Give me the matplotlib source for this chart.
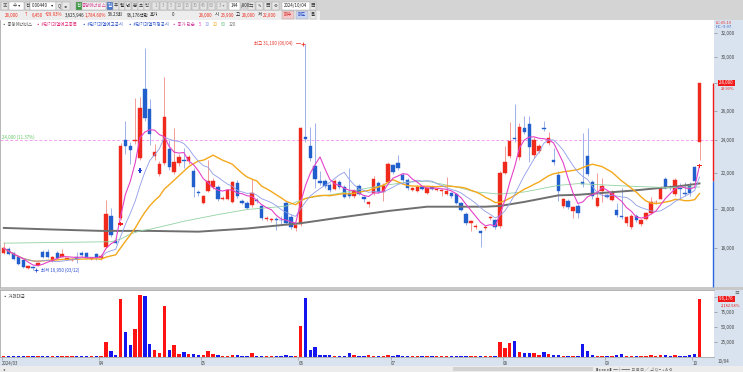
import numpy as np
import pandas as pd
import matplotlib
matplotlib.use("Agg")
import matplotlib.pyplot as plt
import matplotlib.transforms as mtransforms
from matplotlib.patches import Rectangle
from matplotlib.ticker import FixedLocator, NullLocator, FuncFormatter

plt.rcParams["font.family"] = ["Noto Sans CJK KR", "DejaVu Sans"]

# 000440 중앙에너비스, daily candles 2024/03/04 .. 2024/10/04
opens = [17770, 17940, 17770, 17580, 17420, 17070, 17110, 17200, 17820, 17820,
         17400, 17770, 17580, 17470, 17420, 17580, 17740, 17770, 17480, 17700,
         17500, 18060, 19630, 18320, 19480, 24030, 23650, 23970, 22880, 27550,
         26100, 23030, 21930, 22570, 23460, 22040, 22580, 22750, 22700, 22110,
         20880, 20310, 20950, 21170, 21170, 20500, 20520, 20340, 21440, 20410,
         20310, 20190, 20460, 20140, 19450, 19390, 19460, 19420, 20320, 19540,
         18990, 19180, 24220, 23650, 22420, 21540, 21540, 21300, 21070, 21480,
         21200, 20830, 20670, 21240, 20630, 20260, 20840, 21440, 20920, 21490,
         22470, 22580, 21880, 21610, 21030, 20960, 21200, 20870, 21180, 21020,
         20990, 20810, 20830, 20790, 20290, 19710, 19260, 19030, 18830, 18990,
         19490, 19410, 19080, 22020, 23020, 24170, 22950, 24830, 25050, 23060,
         23340, 24830, 23860, 22780, 21880, 20140, 20410, 19870, 20160, 21470,
         23010, 21470, 20160, 20990, 20730, 20470, 19910, 19600, 19250, 19050,
         19620, 19190, 19450, 19750, 20330, 20540, 21670, 21190, 20800, 21150,
         20830, 21240, 22340, 23900]
highs = [18300, 18050, 17800, 17650, 17450, 17200, 17150, 17350, 17900, 17950,
         17600, 17850, 17950, 17550, 17520, 17800, 17850, 17820, 17580, 17750,
         17700, 20450, 20020, 18500, 23840, 25280, 23900, 26870, 26960, 30740,
         26800, 23800, 22700, 28450, 24000, 24820, 23150, 23520, 23100, 22300,
         21000, 20750, 22800, 21700, 21300, 20700, 21100, 21550, 21600, 20500,
         20400, 21650, 20550, 20250, 19600, 19500, 19550, 19600, 20400, 19700,
         19200, 24900, 31100, 24880, 25150, 22110, 21650, 21400, 21650, 21600,
         21300, 22300, 21050, 21350, 20700, 20400, 21820, 21550, 21400, 22650,
         22550, 23100, 22000, 21700, 21200, 21300, 21250, 21200, 21300, 21150,
         21100, 21750, 20900, 20850, 20350, 19800, 19400, 19200, 18900, 19100,
         19600, 19450, 22100, 23660, 25220, 26460, 25180, 25650, 25650, 24200,
         23800, 25290, 24570, 23500, 22100, 20600, 20500, 20150, 20250, 24500,
         24840, 21600, 21990, 21680, 20800, 21000, 20300, 21110, 19600, 19700,
         19700, 19450, 19800, 20620, 20450, 21250, 21750, 21300, 21700, 21400,
         21450, 21450, 22400, 28000]
lows = [17700, 17660, 17420, 17200, 17050, 17000, 16950, 17150, 17500, 17500,
        17350, 17480, 17550, 17420, 17380, 17300, 17600, 17500, 17430, 17450,
        17450, 18000, 18550, 18200, 19400, 23150, 22540, 23800, 22800, 25300,
        23710, 22800, 21800, 22450, 22200, 21950, 22400, 22300, 22550, 20630,
        20700, 20250, 20900, 21100, 20400, 20450, 20450, 20300, 20600, 20250,
        19950, 20100, 20300, 19400, 19350, 19300, 18880, 19200, 19150, 18950,
        18820, 19100, 23900, 22700, 21130, 21300, 21150, 20900, 21000, 21100,
        20550, 20600, 20550, 20750, 20350, 20100, 20750, 20850, 20400, 21400,
        21950, 22200, 21500, 21000, 20950, 20900, 21000, 20800, 21000, 20950,
        20670, 20750, 20600, 20250, 19850, 19150, 18820, 18950, 18050, 18900,
        19400, 18950, 19000, 21950, 22900, 23900, 22800, 24400, 22630, 22900,
        23200, 24600, 23700, 22500, 20400, 20050, 20000, 19500, 19490, 21200,
        21800, 20500, 20100, 20350, 20550, 20400, 19550, 19450, 19100, 18950,
        19300, 19100, 19400, 19700, 20250, 20500, 21050, 21000, 20700, 20500,
        20700, 20700, 21450, 22800]
closes = [17980, 17710, 17460, 17230, 17090, 17160, 17040, 17300, 17550, 17580,
          17550, 17530, 17720, 17520, 17480, 17470, 17660, 17530, 17530, 17500,
          17610, 19700, 18630, 18240, 23650, 23650, 23400, 24030, 26190, 25470,
          24400, 23270, 22530, 25540, 22340, 22640, 22970, 22700, 22950, 21190,
          20830, 20670, 21530, 21530, 20500, 20580, 21020, 21460, 20690, 20300,
          20020, 20840, 20400, 19490, 19510, 19440, 19400, 19380, 19240, 19030,
          19130, 24800, 24090, 22880, 21630, 21420, 21240, 21000, 21540, 21180,
          20630, 20670, 20950, 20810, 20500, 20360, 21650, 20920, 21300, 22540,
          22060, 22280, 21610, 21110, 21130, 21200, 21100, 21120, 21100, 21080,
          21040, 20940, 20680, 20320, 19940, 19260, 19340, 19110, 18750, 19030,
          19540, 19050, 22020, 22680, 23960, 24120, 24860, 24550, 23610, 24030,
          23650, 24720, 24170, 22650, 20950, 20520, 20070, 20070, 19750, 21380,
          21940, 20670, 20580, 21240, 20620, 20920, 19650, 19540, 19540, 19620,
          19400, 19400, 19750, 20330, 20380, 21140, 21150, 21110, 21610, 21050,
          20790, 20830, 21550, 28000]
# 거래대금 (백만원)
trade_value = [1500, 1800, 1600, 1400, 1300, 1200, 1600, 1300, 1900, 1400,
               1200, 1500, 1300, 1000, 1000, 1200, 1300, 1400, 1100, 1200,
               1300, 25000, 9400, 2800, 96000, 41700, 20500, 46100, 102800, 101700,
               22200, 11100, 6700, 83900, 12200, 19400, 5600, 8900, 4400, 4400,
               3300, 2800, 10600, 4400, 2800, 2200, 2200, 3900, 2800, 1700,
               1700, 6100, 1700, 1700, 1100, 1100, 1700, 2200, 3300, 2200,
               1700, 51100, 98300, 12200, 16100, 3900, 2800, 2800, 2200, 2200,
               1700, 6100, 2800, 1700, 2200, 3300, 2200, 1700, 2200, 2800,
               1700, 3900, 2200, 1700, 1500, 1400, 1600, 1300, 1200, 1500,
               1300, 1600, 1400, 1500, 1700, 1900, 1500, 1300, 1800, 1200,
               1400, 1300, 24400, 14400, 22800, 27200, 8300, 6100, 6700, 6100,
               3900, 8300, 4400, 2800, 2800, 1700, 1700, 1700, 2200, 22200,
               10000, 3900, 2200, 2200, 1700, 1700, 3300, 4400, 1700, 2200,
               1100, 1700, 2200, 2800, 2200, 2800, 2800, 2200, 2800, 1700,
               1700, 3300, 5600, 96176]

month_starts = [0, 20, 41, 61, 80, 103, 124, 142]
month_labels = ["2024/03", "04", "05", "06", "07", "08", "09", "10"]

ma60_days = [0, 15, 22, 24, 26, 28, 30, 34, 37, 44, 50, 58, 62, 69, 76, 83,
             87, 93, 97, 102, 107, 114, 118, 129, 136, 143]
ma60_vals = [18230, 18280, 18300, 18430, 18680, 18840, 18920, 19150, 19330,
             19680, 19950, 20130, 20560, 20830, 21190, 21470, 21520, 21190,
             20910, 20790, 20910, 21280, 21380, 21230, 21160, 21190]
ma120_days = [0, 10, 20, 30, 40, 50, 61, 69, 79, 87, 99, 102, 107, 114, 118,
              129, 139, 143]
ma120_vals = [18990, 18910, 18840, 18840, 18800, 18960, 19230, 19520, 19870,
              20100, 20100, 20140, 20360, 20720, 20750, 20980, 21240, 21390]

signal_days = [24, 28, 143]
signal_prices = [19190, 22150, 22430]
signal_colors = ["#f02020", "#1f3fd0", "#f02020"]

price_ticks = [18000, 20000, 22000, 24000, 26000, 28000, 30000, 32000]
value_ticks = [25000, 50000, 75000, 100000]

W, H = 743, 372
RED = "#ef2a1c"
BLUE = "#2160cc"
VRED = "#ff1212"
VBLUE = "#1414ee"

fig = plt.figure(figsize=(W / 100, H / 100), dpi=100)
fig.patch.set_facecolor("white")


def px_box(x0, y0, x1, y1, color, z=-1.0, ec="none", lw=0.0):
    fig.add_artist(Rectangle((x0 / W, 1 - y1 / H), (x1 - x0) / W, (y1 - y0) / H,
                             transform=fig.transFigure, facecolor=color,
                             edgecolor=ec, linewidth=lw, zorder=z))


def px_text(x, y, s, color="#333333", size=3.2, ha="left", **kw):
    fig.text(x / W, 1 - y / H, s, color=color, fontsize=size, ha=ha,
             va="center", **kw)


def axis_fmt(box_value):
    # the tick hidden under the current-value box is left blank
    def f(val, _):
        if abs(val / box_value - 1) < 0.05:
            return ""
        return f"{val:,.0f}"
    return FuncFormatter(f)


# frame pieces
px_box(0, 0, W, 20, "#d4d4d4")
px_box(0, 10.5, 320, 19.5, "#ededed", z=-0.8)
px_box(714, 20, W, 357, "#d8e3ef")
px_box(0, 287, W, 290, "#c8c8c8")
px_box(0, 357, W, 365.5, "#d8e3ef")
px_box(0, 365.5, W, H, "#ececec")
px_box(453, 366.5, 593, 371, "#d2d2d2", z=-0.5)

ax = fig.add_axes([0, 1 - 287 / H, 714 / W, (287 - 20) / H])
axv = fig.add_axes([0, 1 - 357 / H, 714 / W, (357 - 290) / H])

o = np.array(opens, dtype=float)
h = np.array(highs, dtype=float)
l = np.array(lows, dtype=float)
c = np.array(closes, dtype=float)
v = np.array(trade_value, dtype=float)
x = np.arange(len(c))
up = c >= o

ax.set_yscale("log")
ax.set_xlim(-0.78, 145.98)
ax.set_ylim(16212, 33133)

wick_cols = np.where(up, "#f08c86", "#8ea6e6")
ax.vlines(x, l, h, colors=wick_cols, lw=0.6, zorder=2)
body_cols = np.where(up, RED, BLUE)
ax.bar(x, np.abs(c - o), bottom=np.minimum(o, c), width=0.7,
       color=body_cols, edgecolor=body_cols, linewidth=0.3, zorder=3)

close_s = pd.Series(c)
ax.plot(ma120_days, ma120_vals, color="#6f6f6f", lw=1.4, zorder=4)
ax.plot(ma60_days, ma60_vals, color="#92d2a2", lw=0.6, zorder=4)
ax.plot(x, close_s.rolling(20, min_periods=1).mean(), color="#f4a81c", lw=1.0, zorder=4)
ax.plot(x, close_s.rolling(10, min_periods=1).mean(), color="#8e9ce8", lw=0.6, zorder=4)
ax.plot(x, close_s.rolling(5, min_periods=1).mean(), color="#e442c8", lw=0.8, zorder=5)

ax.scatter(signal_days, signal_prices, marker="P", s=9, c=signal_colors,
           linewidths=0, zorder=6)

# 24,000 reference line
ax.axhline(24000, color="#f4a0f2", lw=0.7, ls=(0, (3, 2)), zorder=1)
ax.text(-0.3, 24000, "24,000 (11.37%)", color="#62c462", fontsize=3.2,
        ha="left", va="bottom")

# high / low marks
hi = int(np.argmax(h))
lo = int(np.argmin(l))
ax.plot(hi - 0.6, h[hi], marker="+", color="#e8342c", ms=3, mew=0.6, zorder=6)
ax.annotate(f"최고 {h[hi]:,.0f} (06/04)", xy=(hi - 0.6, h[hi]), xytext=(-7, 0),
            textcoords="offset points", ha="right", va="center",
            color="#e8342c", fontsize=3.2,
            arrowprops=dict(arrowstyle="-", color="#e8342c", lw=0.5,
                            shrinkA=0.5, shrinkB=1.2))
ax.plot(lo + 0.7, l[lo], marker="+", color="#2c4fd0", ms=3, mew=0.6, zorder=6)
ax.annotate(f"최저 {l[lo]:,.0f} (03/12)", xy=(lo + 0.7, l[lo]), xytext=(3.5, 0),
            textcoords="offset points", ha="left", va="center",
            color="#2c4fd0", fontsize=3.2,
            arrowprops=dict(arrowstyle="-", color="#2c4fd0", lw=0.5,
                            shrinkA=0.5, shrinkB=1.2))

# range bar on the right edge: red above the previous close, blue below
ax.vlines(145.85, c[-2], c[-1], color="#f01818", lw=1.0, clip_on=False, zorder=6)
ax.vlines(145.85, 16212, c[-2], color="#2a66e0", lw=1.0, clip_on=False, zorder=6)

ax.yaxis.tick_right()
ax.yaxis.set_major_locator(FixedLocator(price_ticks))
ax.yaxis.set_minor_locator(NullLocator())
ax.yaxis.set_major_formatter(axis_fmt(c[-1]))
ax.tick_params(axis="y", which="major", direction="out", length=2, width=0.4,
               color="#777777", labelcolor="#444444", labelsize=3.3, pad=3)
ax.tick_params(axis="x", bottom=False, labelbottom=False)
for side in ["top", "right", "bottom"]:
    ax.spines[side].set_visible(False)
ax.spines["left"].set_color("#aaaaaa")
ax.spines["left"].set_linewidth(0.6)

trans = mtransforms.blended_transform_factory(ax.transAxes, ax.transData)
ax.text(1.006, c[-1], f" {c[-1]:,.0f}  ", transform=trans, ha="left",
        va="center", color="white", fontsize=3.2, clip_on=False,
        bbox=dict(boxstyle="square,pad=0.08", fc="#f01818", ec="none"))
ax.annotate(f"{(c[-1] / c[-2] - 1) * 100:.2f}%", xy=(1.006, c[-1]), xycoords=trans,
            xytext=(2, -3.0), textcoords="offset points", ha="left", va="top",
            color="#f01818", fontsize=2.9, annotation_clip=False)

# trade value panel
vcols = np.where(up, VRED, VBLUE)
axv.bar(x, v, width=0.7, color=vcols, linewidth=0)
axv.set_xlim(-0.78, 145.98)
axv.set_ylim(0, 111000)
axv.yaxis.tick_right()
axv.yaxis.set_major_locator(FixedLocator(value_ticks))
axv.yaxis.set_major_formatter(axis_fmt(v[-1]))
axv.tick_params(axis="y", direction="out", length=2, width=0.4, color="#777777",
                labelcolor="#444444", labelsize=3.3, pad=3)
axv.set_xticks(np.array(month_starts) - 0.45)
axv.set_xticklabels(month_labels)
for lbl in axv.get_xticklabels():
    lbl.set_ha("left")
axv.tick_params(axis="x", direction="out", length=2.5, width=0.4, color="#888888",
                labelcolor="#444444", labelsize=3.2, pad=0.2)
for side in ["top", "bottom"]:
    axv.spines[side].set_color("#a8a8a8")
    axv.spines[side].set_linewidth(0.6)
axv.spines["right"].set_visible(False)
axv.spines["left"].set_color("#aaaaaa")
axv.spines["left"].set_linewidth(0.6)

vtrans = mtransforms.blended_transform_factory(axv.transAxes, axv.transData)
axv.text(1.006, v[-1], f" {v[-1]:,.0f}  ", transform=vtrans, ha="left",
         va="center", color="white", fontsize=3.2, clip_on=False, zorder=6,
         bbox=dict(boxstyle="square,pad=0.08", fc="#f01818", ec="none"))
axv.annotate("2,182.58%", xy=(1.006, v[-1]), xycoords=vtrans, xytext=(2, -3.0),
             textcoords="offset points", ha="left", va="top", color="#f01818",
             fontsize=2.9, annotation_clip=False)

px_text(3, 296, "▪ 거래대금", color="#444444")
px_text(737, 292, "≡", color="#555555", size=3.5, ha="center")
px_text(718, 361, "10/04", color="#444444")
px_text(716, 22.5, "LC:65.19", color="#e83030", size=3.0)
px_text(716, 27.5, "HC:-9.97", color="#3060d0", size=3.0)

# toolbar row 1
row1 = [(1, 8, "▣", "#555555", "#e8e8e8"), (9, 24, "수 ▾", "#333333", "white"),
        (25, 30, "전", "#333333", "#e8e8e8"), (30, 56, "000440    ▾", "#222222", "white"),
        (56, 62, "Q", "#333333", "#e8e8e8"), (62, 70, "◂▸", "#333333", "#e8e8e8"),
        (76, 82, "전", "white", "#3d9a45"), (82, 106, "중앙에너비스", "#d23c8c", "#f4f4f4"),
        (107, 113, "일", "white", "#4a78d0"), (113, 119, "주", "#333333", "#e8e8e8"),
        (119, 125, "월", "#333333", "#e8e8e8"), (125, 131, "년", "#333333", "#e8e8e8"),
        (132, 138, "분", "#333333", "#e8e8e8"), (138, 144, "초", "#333333", "#e8e8e8"),
        (144, 150, "틱", "#333333", "#e8e8e8"), (152, 159, "1", "#999999", "#e4e4e4"),
        (160, 167, "3", "#999999", "#e4e4e4"), (168, 175, "5", "#999999", "#e4e4e4"),
        (176, 183, "10", "#999999", "#e4e4e4"), (184, 191, "15", "#999999", "#e4e4e4"),
        (192, 199, "30", "#999999", "#e4e4e4"), (200, 207, "45", "#999999", "#e4e4e4"),
        (208, 215, "60", "#999999", "#e4e4e4"), (217, 227, "3 ▾", "#999999", "#e4e4e4"),
        (229, 240, "144", "#222222", "white"), (248, 255, "⇆", "#333333", "#e8e8e8"),
        (256, 263, "✎", "#333333", "#e8e8e8"), (264, 271, "▤", "#333333", "#e8e8e8"),
        (272, 279, "⚙", "#333333", "#e8e8e8"), (282, 310, "2024/10/04", "#222222", "white"),
        (310, 316, "▦", "#333333", "#e8e8e8")]
for x0, x1, s, fg, bg in row1:
    px_box(x0 + 0.3, 1.5, x1 - 0.3, 9.5, bg, z=-0.5, ec="#a0a0a0", lw=0.3)
    px_text((x0 + x1) / 2, 5.5, s, color=fg, ha="center")
px_text(241, 5.5, "/800", color="#333333")

# toolbar row 2: quote line
row2 = [(5, "28,000", RED), (24, "↑", RED), (32, "6,450", RED), (45, "+29.93%", RED),
        (65, "3,625,946", "#222222"), (85, "1,784.60%", RED), (108, "58.23회", "#222222"),
        (127, "96,176백만", "#222222"), (150, "호가", "#222222"), (172, "0", "#222222"),
        (199, "28,000", RED), (215, "시", "#222222"), (221, "23,900", RED),
        (236, "고", "#222222"), (242, "28,000", RED), (258, "저", "#222222"),
        (263, "22,800", RED)]
for xp, s, col in row2:
    px_text(xp, 15, s, color=col)
for x0, x1, s, fg, bg in [(282, 294, "매수", "#d02020", "#f4c8c8"),
                          (296, 308, "매도", "#2040c0", "#c8d4f0"),
                          (310, 316, "틀", "#333333", "#e8e8e8")]:
    px_box(x0, 11, x1, 19, bg, z=-0.5, ec="#a0a0a0", lw=0.3)
    px_text((x0 + x1) / 2, 15, s, color=fg, ha="center")

# legend row
legend_items = [(2, "▪ 중앙에너비스", "#555555"), (36, "▪ #단기과열예고종목", "#e0307a"),
                (82, "▪ #단기과열예고공시", "#2f56c8"), (128, "▪ #단기과열지정공시", "#2f56c8"),
                (172, "▪ 종가 단순", "#d040a0"), (199, "5", "#e442c8"),
                (205, "10", "#8e9ce8"), (213, "20", "#f4a81c"), (221, "60", "#6cc080"),
                (229, "120", "#6f6f6f")]
for xp, s, col in legend_items:
    px_text(xp, 24.5, s, color=col)

# bottom scroll bar controls
px_text(3, 369, "◂", color="#555555", size=3.0)
px_text(596, 369, "▮◂ ◂ ▸ ▸▮  ─┼──  ⊡ ⊞ ⊟ ╱ ⊿ Q − + A ⟲", color="#555555", size=3.0)

fig.savefig("out.png", dpi=100)
